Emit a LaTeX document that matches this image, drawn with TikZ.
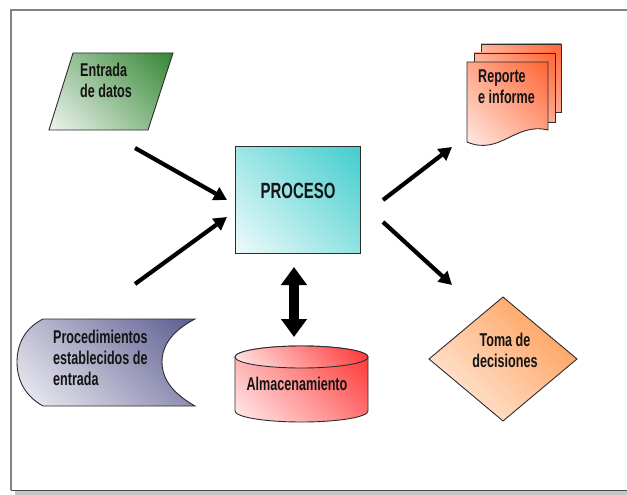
\documentclass[tikz,border=0pt]{standalone}
\usepackage{fontspec}
\setmainfont{Liberation Sans}[FakeStretch=0.68]
\usetikzlibrary{arrows.meta,shapes.geometric}
\definecolor{txt}{RGB}{20,20,20}
\definecolor{edge}{RGB}{45,45,45}
\definecolor{frameg}{RGB}{130,130,130}
\definecolor{cgreen}{RGB}{25,118,25}
\definecolor{corange}{RGB}{255,80,25}
\definecolor{cteal}{RGB}{40,198,198}
\definecolor{cslate}{RGB}{70,70,130}
\definecolor{cred}{RGB}{255,20,20}
\definecolor{camber}{RGB}{255,130,40}
\colorlet{hue}{cgreen}
% linear fade from white to the current hue, turned to run corner to corner
\pgfdeclareverticalshading[hue]{diagfade}{100bp}{color(0bp)=(white); color(8bp)=(white); color(96bp)=(hue); color(100bp)=(hue)}
\tikzset{
  shape line/.style={draw=edge, line width=0.9pt},
  grad/.style={shape line, /utils/exec={\colorlet{hue}{#1}}, shading=diagfade, shading angle=-45},
  label text/.style={text=txt, font=\bfseries\fontsize{18.5}{20.8}\selectfont, inner sep=0pt},
  flow/.style={line width=4.2pt, -{Triangle[length=13pt,width=14pt]}},
  exchange/.style={line width=10pt, {Triangle[length=18pt,width=25pt]}-{Triangle[length=18pt,width=25pt]}},
}
\begin{document}
\begin{tikzpicture}[x=1pt,y=-1pt]
\useasboundingbox (0,0) rectangle (627,495);
\fill[white] (0,0) rectangle (627,495);

% page frame with its shadow along the bottom
\fill[gray!45] (15,490) rectangle (627,495);
\draw[frameg, line width=1.6pt] (11,490) -- (11,10) -- (627,10);
\draw[gray!60!black, line width=1pt] (11,490) -- (627,490);

% input data (parallelogram)
\shade[grad=cgreen] (73,53) -- (173,53) -- (148,130) -- (49,130) -- cycle;
\node[label text, anchor=north west, align=left] (entrada) at (80,63) {Entrada\\de datos};

% stack of report pages
\shade[grad=corange] (481,44) rectangle (561,112);
\shade[grad=corange] (474,53) rectangle (555,122);
\shade[grad=corange] (467,62) -- (548,62) -- (548,130)
  .. controls (515,122) and (500,156) .. (467,142) -- cycle;
\node[label text, anchor=north west, align=left] (reporte) at (478,70) {Reporte\\e informe};

% central process
\shade[grad=cteal] (235,146) rectangle (360,253);
\node[label text, font=\bfseries\fontsize{22}{24}\selectfont] (proceso) at (298,191) {PROCESO};

% stored procedures
\shade[grad=cslate] (195,319) -- (43,319)
  .. controls (25,328) and (17,344) .. (17,362)
  .. controls (17,380) and (25,396) .. (43,406) -- (195,406)
  .. controls (174,394) and (162,380) .. (162,362)
  .. controls (162,344) and (174,330) .. (195,319) -- cycle;
\node[label text, anchor=north west, align=left] (proc) at (53,330) {Procedimientos\\establecidos de\\entrada};

% storage cylinder
\shade[grad=cred] (235,357) -- (235,411)
  arc[start angle=180, end angle=0, x radius=66.5, y radius=11]
  -- (368,357) arc[start angle=0, end angle=-180, x radius=66.5, y radius=11] -- cycle;
\shade[grad=cred] (301.5,357) ellipse [x radius=66.5, y radius=11];
\node[label text] (almac) at (297,383.5) {Almacenamiento};

% decision diamond
\shade[grad=camber] (503,297) -- (577,359) -- (503,421) -- (429,359) -- cycle;
\node[label text, align=center] (toma) at (505,350) {Toma de\\decisiones};

% arrow end points
\coordinate (inA) at (135,148);
\coordinate (inAtip) at (227,200);
\coordinate (inB) at (135,284);
\coordinate (inBtip) at (227,217);
\coordinate (outA) at (383,200);
\coordinate (outAtip) at (452,147);
\coordinate (outB) at (383,222);
\coordinate (outBtip) at (452,285);
\coordinate (stTop) at (294,267);
\coordinate (stBot) at (294,337);

\draw[flow] (inA) -- (inAtip);
\draw[flow] (inB) -- (inBtip);
\draw[flow] (outA) -- (outAtip);
\draw[flow] (outB) -- (outBtip);
\draw[exchange] (stTop) -- (stBot);
\end{tikzpicture}
\end{document}
